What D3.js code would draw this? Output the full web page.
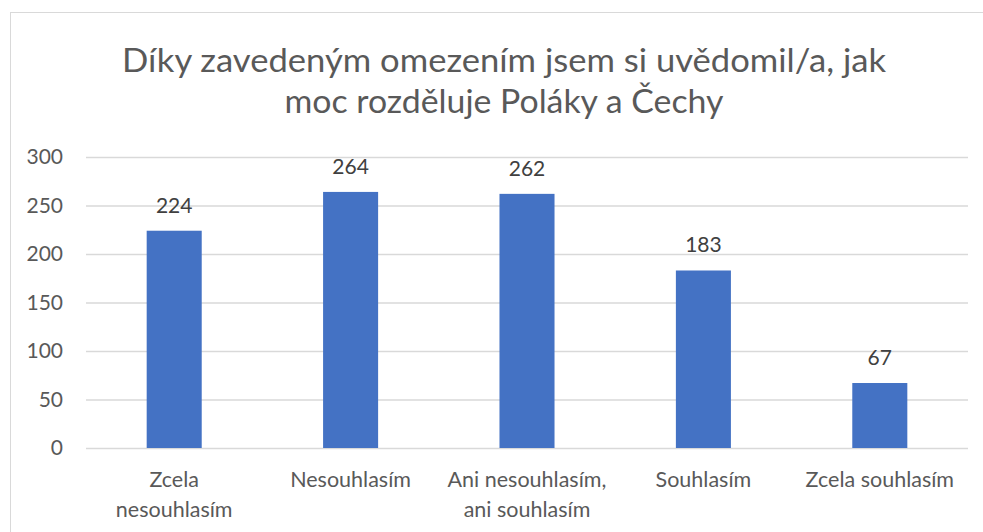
<!DOCTYPE html>
<html>
<head>
<meta charset="utf-8">
<script src="https://cdn.jsdelivr.net/npm/d3@7"></script>
<style>
  html, body { margin: 0; padding: 0; background: #fff; }
  text { font-family: Lato, "Noto Sans", sans-serif; }
</style>
</head>
<body>
<svg id="chart" width="983" height="532"></svg>
<script>
const titleLines = ["Díky zavedeným omezením jsem si uvědomil/a, jak", "moc rozděluje Poláky a Čechy"];
const categories = ["Zcela nesouhlasím", "Nesouhlasím", "Ani nesouhlasím, ani souhlasím", "Souhlasím", "Zcela souhlasím"];
const categoryLines = [["Zcela", "nesouhlasím"], ["Nesouhlasím"], ["Ani nesouhlasím,", "ani souhlasím"], ["Souhlasím"], ["Zcela souhlasím"]];
const values = [224, 264, 262, 183, 67];
const yTicks = [0, 50, 100, 150, 200, 250, 300];

const svg = d3.select("#chart");
const W = 983, H = 532;
const margin = {left: 86, right: 15, top: 157, bottom: 84};

// chart frame
svg.append("rect").attr("x", 10.5).attr("y", 12.5).attr("width", W).attr("height", H)
  .attr("fill", "none").attr("stroke", "#d9d9d9").attr("stroke-width", 1);

const x = d3.scaleBand().domain(categories).range([margin.left, W - margin.right]).paddingInner(0.688).paddingOuter(0.344);
const y = d3.scaleLinear().domain([0, 300]).range([H - margin.bottom, margin.top]);

// title, each line stretched to the chart's title width
const titleWidths = [764, 439];
const title = svg.append("text").attr("text-anchor", "middle").attr("fill", "#595959").attr("font-size", 32);
title.selectAll("tspan").data(titleLines).join("tspan")
  .attr("x", 504).attr("y", (d, i) => 72 + i * 41)
  .attr("textLength", (d, i) => titleWidths[i])
  .attr("lengthAdjust", "spacingAndGlyphs")
  .text(d => d);

// gridlines and y axis labels
const yAxis = d3.axisLeft(y).tickValues(yTicks).tickSize(-(W - margin.right - margin.left)).tickPadding(23);
const gy = svg.append("g").attr("transform", `translate(${margin.left},0)`).call(yAxis);
gy.select(".domain").remove();
gy.selectAll(".tick line").attr("stroke", "#d9d9d9").attr("stroke-width", 1.3);
gy.selectAll(".tick text").attr("fill", "#595959").attr("font-size", 21).attr("font-family", "Lato, sans-serif");

// bars
svg.append("g").selectAll("rect").data(values).join("rect")
  .attr("x", (d, i) => x(categories[i]))
  .attr("y", d => y(d))
  .attr("width", x.bandwidth())
  .attr("height", d => y(0) - y(d))
  .attr("fill", "#4472c4");

// value labels
svg.append("g").selectAll("text").data(values).join("text")
  .attr("x", (d, i) => x(categories[i]) + x.bandwidth() / 2)
  .attr("y", d => y(d) - 18)
  .attr("text-anchor", "middle").attr("fill", "#404040").attr("font-size", 21)
  .text(d => d);

// category labels
const cat = svg.append("g").selectAll("text").data(categoryLines).join("text")
  .attr("text-anchor", "middle").attr("fill", "#595959").attr("font-size", 21.5);
cat.each(function(lines, i) {
  d3.select(this).selectAll("tspan").data(lines).join("tspan")
    .attr("x", x(categories[i]) + x.bandwidth() / 2)
    .attr("y", (d, j) => 487 + j * 30)
    .text(d => d);
});
</script>
</body>
</html>
